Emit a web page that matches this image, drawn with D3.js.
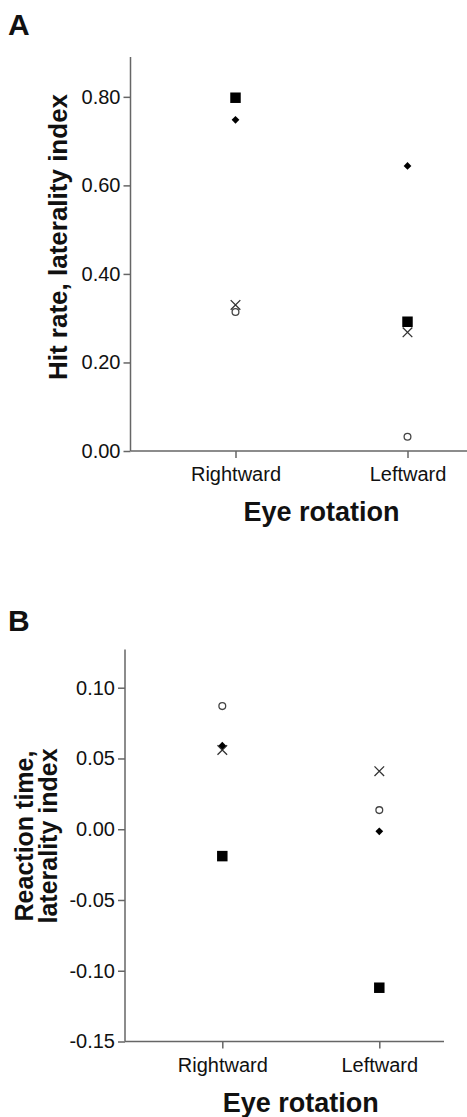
<!DOCTYPE html>
<html lang="en">
<head>
    <meta charset="utf-8" />
    <title>Eye rotation laterality</title>
    <style>
        body {
            margin: 0;
            background-color: #fff;
        }
        svg text {
            font-family: "Liberation Sans", Arial, sans-serif;
            fill: #111;
        }
    </style>
</head>
<body>
<svg id="chart" width="467" height="1117"></svg>

<script src="https://cdn.jsdelivr.net/npm/d3@7"></script>
<script>
    // Categories on the x axis
    const categories = ["Rightward", "Leftward"];

    // Panel A: hit rate laterality index, one value per category
    const hitSquare  = [0.798, 0.292];
    const hitDiamond = [0.748, 0.644];
    const hitCross   = [0.330, 0.268];
    const hitCircle  = [0.314, 0.032];
    const hitTicks   = [0.00, 0.20, 0.40, 0.60, 0.80];

    // Panel B: reaction time laterality index
    const rtSquare  = [-0.019, -0.112];
    const rtDiamond = [0.059, -0.0015];
    const rtCross   = [0.056, 0.041];
    const rtCircle  = [0.087, 0.0135];
    const rtTicks   = [-0.15, -0.10, -0.05, 0.00, 0.05, 0.10];

    const svg = d3.select("#chart");

    // marker drawing for each series style
    const markers = {
        square:  { type: d3.symbolSquare, size: 110, fill: "#000", stroke: "none", rot: 0 },
        diamond: { type: d3.symbolSquare, size: 30, fill: "#000", stroke: "none", rot: 45 },
        cross:   { type: d3.symbolTimes, size: 62, fill: "none", stroke: "#333", rot: 0 },
        circle:  { type: d3.symbolCircle, size: 36, fill: "none", stroke: "#444", rot: 0 }
    };

    function drawPanel(p) {
        const g = svg.append("g");

        const x = d3.scalePoint()
            .domain(categories)
            .range(p.catRange);

        const y = d3.scaleLinear()
            .domain(p.domain)
            .range([p.bottom, p.top]);

        // y axis
        const yAxis = g.append("g")
            .attr("transform", `translate(${p.left},0)`)
            .call(d3.axisLeft(y)
                .tickValues(p.ticks)
                .tickFormat(d => d.toFixed(2))
                .tickSize(7)
                .tickPadding(3)
                .tickSizeOuter(0));
        yAxis.select(".domain").remove();
        yAxis.append("line")
            .attr("x1", 0).attr("x2", 0)
            .attr("y1", p.top).attr("y2", p.bottom)
            .attr("stroke", "#666").attr("stroke-width", 1.5);

        // x axis
        const xAxis = g.append("g")
            .attr("transform", `translate(0,${p.bottom})`)
            .call(d3.axisBottom(x)
                .tickSize(7)
                .tickPadding(9)
                .tickSizeOuter(0));
        xAxis.select(".domain").remove();
        xAxis.append("line")
            .attr("x1", p.left).attr("x2", p.right)
            .attr("y1", 0).attr("y2", 0)
            .attr("stroke", "#666").attr("stroke-width", 1.5);

        g.selectAll(".tick line").attr("stroke", "#666").attr("stroke-width", 1.5);
        g.selectAll(".tick text")
            .attr("font-size", 20)
            .attr("fill", "#111")
            .attr("font-family", "'Liberation Sans', Arial, sans-serif");

        // points, one series at a time
        p.series.forEach(s => {
            const m = markers[s.marker];
            const sym = d3.symbol().type(m.type).size(m.size);
            g.append("g").selectAll("path")
                .data(s.values)
                .join("path")
                .attr("d", sym)
                .attr("transform", (d, i) => `translate(${x(categories[i])},${y(d)}) rotate(${m.rot})`)
                .attr("fill", m.fill)
                .attr("stroke", m.stroke)
                .attr("stroke-width", 1.3);
        });

        // x axis title
        g.append("text")
            .attr("x", (p.catRange[0] + p.catRange[1]) / 2)
            .attr("y", p.bottom + 70)
            .attr("text-anchor", "middle")
            .attr("font-size", 27)
            .attr("font-weight", "bold")
            .text("Eye rotation");

        // y axis title (one or two lines)
        const yt = g.append("text")
            .attr("transform", `translate(${p.yTitleX},${p.yTitleY}) rotate(-90)`)
            .attr("text-anchor", "middle")
            .attr("font-size", p.yTitleSize)
            .attr("font-weight", "bold");
        p.yTitle.forEach((line, i) => {
            yt.append("tspan")
                .attr("x", 0)
                .attr("y", (i - (p.yTitle.length - 1)) * p.yTitleSize * 0.95)
                .text(line);
        });

        // panel letter
        g.append("text")
            .attr("x", 8)
            .attr("y", p.letterY)
            .attr("font-size", 30)
            .attr("font-weight", "bold")
            .text(p.letter);
    }

    drawPanel({
        letter: "A", letterY: 35,
        left: 130.5, right: 472, top: 57, bottom: 451,
        catRange: [235.5, 407.5],
        domain: [0, 0.89],
        ticks: hitTicks,
        yTitle: ["Hit rate, laterality index"],
        yTitleSize: 26, yTitleX: 67, yTitleY: 237,
        series: [
            { marker: "circle", values: hitCircle },
            { marker: "cross", values: hitCross },
            { marker: "diamond", values: hitDiamond },
            { marker: "square", values: hitSquare }
        ]
    });

    drawPanel({
        letter: "B", letterY: 631,
        left: 125, right: 444, top: 649.5, bottom: 1041.5,
        catRange: [222.3, 379.3],
        domain: [-0.15, 0.127],
        ticks: rtTicks,
        yTitle: ["Reaction time,", "laterality index"],
        yTitleSize: 25, yTitleX: 57, yTitleY: 836,
        series: [
            { marker: "circle", values: rtCircle },
            { marker: "cross", values: rtCross },
            { marker: "diamond", values: rtDiamond },
            { marker: "square", values: rtSquare }
        ]
    });
</script>
</body>
</html>
